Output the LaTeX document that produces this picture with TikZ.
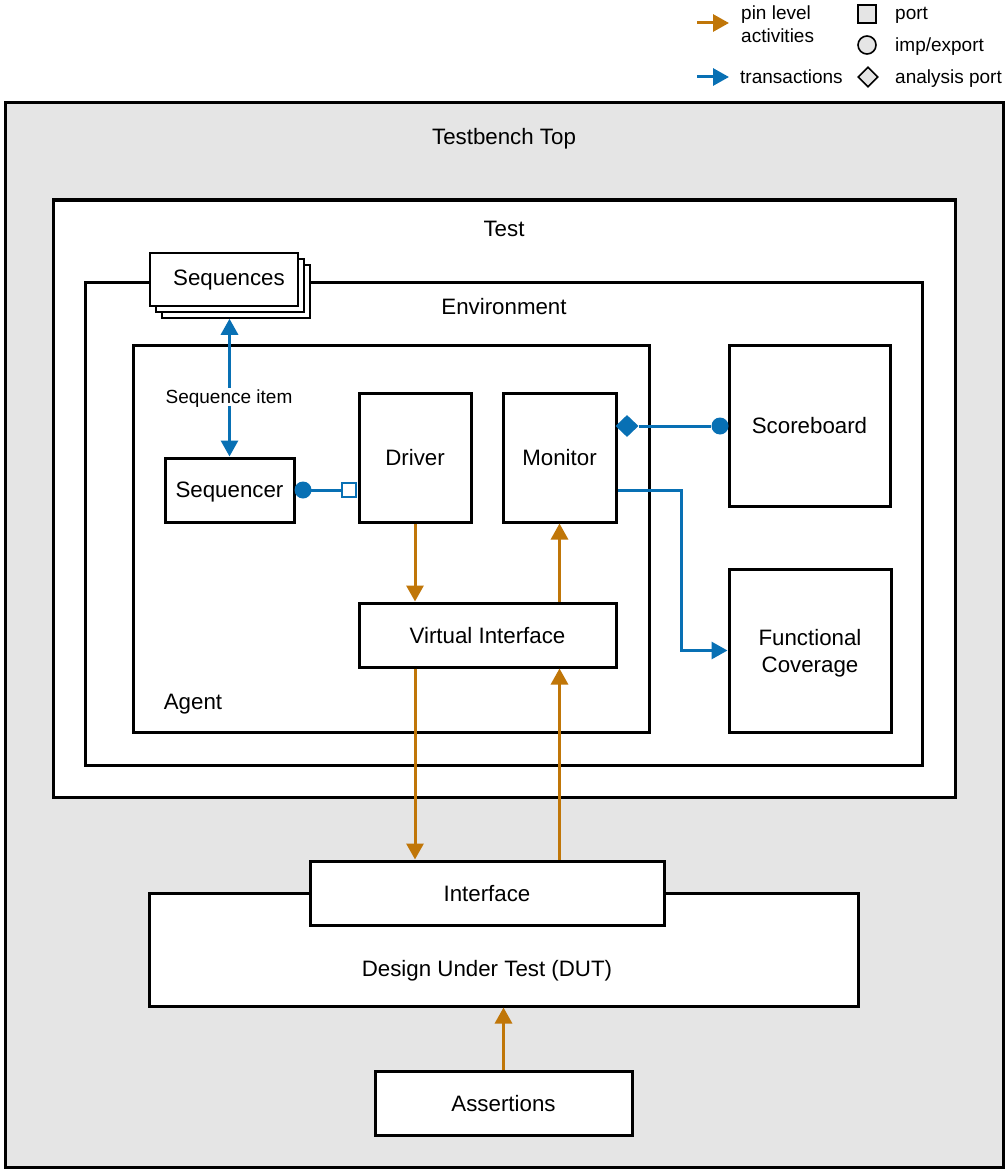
\documentclass[tikz,border=0pt]{standalone}
\usepackage{fontspec}
\setmainfont{Liberation Sans}
\usetikzlibrary{arrows.meta,shapes.geometric}
\definecolor{pinclr}{RGB}{192,118,8}
\definecolor{txclr}{RGB}{8,112,180}
\definecolor{benchgray}{RGB}{229,229,229}
\begin{document}
\begin{tikzpicture}[x=1pt,y=-1pt,
  every node/.style={font=\fontsize{22.3}{27}\selectfont, inner sep=0pt, text depth=0pt},
  box/.style={draw, line width=3pt, fill=white, rectangle, align=center},
  small/.style={font=\fontsize{19}{23}\selectfont},
  pin/.style={draw=pinclr, line width=3pt, -{Triangle[length=16pt,width=17pt]}},
  tx/.style={draw=txclr, line width=3pt, -{Triangle[length=16pt,width=17pt]}},
  legmark/.style={draw, line width=1.6pt, fill=benchgray}
]
\useasboundingbox (0,0) rectangle (1005,1169);

% legend
\coordinate (lpa) at (697,23); \coordinate (lpb) at (729,23);
\draw[pin] (lpa) -- (lpb);
\node[small, anchor=west, align=left] (lpin) at (741,24) {pin level\\activities};
\coordinate (lta) at (697,77); \coordinate (ltb) at (729,77);
\draw[tx] (lta) -- (ltb);
\node[small, anchor=west] (ltx) at (740,77) {transactions};
\node[legmark, rectangle, minimum width=18, minimum height=18] (lport) at (867,14) {};
\node[small, anchor=west] (lporttxt) at (895,13) {port};
\node[legmark, circle, minimum size=18] (limp) at (867,45) {};
\node[small, anchor=west] (limptxt) at (895,45) {imp/export};
\node[legmark, diamond, minimum width=20, minimum height=20] (lana) at (868,77) {};
\node[small, anchor=west] (lanatxt) at (895,77) {analysis port};

% testbench top
\node[draw, line width=3pt, fill=benchgray, minimum width=998, minimum height=1064] (tb) at (504,635) {};
\node (tbtitle) at (504,136) {Testbench Top};

% test
\node[box, minimum width=902, minimum height=597] (test) at (504,498.5) {};
\node (testtitle) at (504,229) {Test};

% environment
\node[box, minimum width=837, minimum height=483] (env) at (503.5,523.5) {};
\node (envtitle) at (504,306) {Environment};

% sequences stack
\node[box, line width=1.5pt, minimum width=148, minimum height=53] (sqs3) at (236,291.5) {};
\node[box, line width=1.5pt, minimum width=148, minimum height=53] (sqs2) at (230,285.5) {};
\node[box, line width=1.5pt, minimum width=148, minimum height=53] (sqs) at (224,279.5) {};
\node (sqstxt) at (229,278) {Sequences};

% agent
\node[box, minimum width=516, minimum height=387] (agent) at (391,538.5) {};
\node (agenttitle) at (193,702) {Agent};

% agent components
\node[box, minimum width=129, minimum height=64] (sqr) at (229.5,490) {Sequencer};
\node[box, minimum width=112, minimum height=129] (drv) at (415,457.5) {Driver};
\node[box, minimum width=113, minimum height=129] (mon) at (559.5,457.5) {Monitor};
\node[box, minimum width=257, minimum height=64] (vif) at (487.5,635) {Virtual Interface};

% scoreboard and coverage
\node[box, minimum width=161, minimum height=161] (sb) at (809.5,425.5) {Scoreboard};
\node[box, minimum width=162, minimum height=163] (cov) at (810,650.5) {Functional\\Coverage};

% DUT, interface, assertions
\node[box, minimum width=709, minimum height=113] (dut) at (503.5,949.5) {};
\node (duttitle) at (487,968) {Design Under Test (DUT)};
\node[box, minimum width=354, minimum height=64] (intf) at (487,893) {Interface};
\node[box, minimum width=257, minimum height=64] (asr) at (503.5,1103) {Assertions};

% sequence item transfer
\draw[tx, {Triangle[length=16pt,width=17pt]}-{Triangle[length=16pt,width=17pt]}]
  (sqs3.south -| sqr.north) -- (sqr.north);
\node[small, fill=white, inner sep=2pt] (seqitem) at (229,397) {Sequence item};

% sequencer export to driver port
\coordinate (sqrexp) at (303,490);
\node[draw=txclr, line width=2.5pt, fill=white, rectangle, minimum width=14, minimum height=14] (drvport) at (349,490) {};
\draw[txclr, line width=3pt] (sqrexp) -- (drvport.west);
\fill[txclr] (sqrexp) circle (8.5);

% monitor analysis port to scoreboard
\node[fill=txclr, diamond, minimum width=23, minimum height=22] (monap) at (627,426) {};
\node[fill=txclr, circle, minimum size=17] (sbimp) at (720,426) {};
\draw[txclr, line width=3pt] (monap.east) -- (sbimp.west);

% monitor to coverage
\coordinate (covbend) at (681,490);
\draw[tx] (mon.east |- covbend) -- (covbend) |- (cov.west);

% pin level activity
\draw[pin] (drv.south) -- (drv.south |- vif.north);
\draw[pin] (mon.south |- vif.north) -- (mon.south);
\draw[pin] (drv.south |- vif.south) -- (drv.south |- intf.north);
\draw[pin] (mon.south |- intf.north) -- (mon.south |- vif.south);
\draw[pin] (asr.north) -- (asr.north |- dut.south);
\end{tikzpicture}
\end{document}
